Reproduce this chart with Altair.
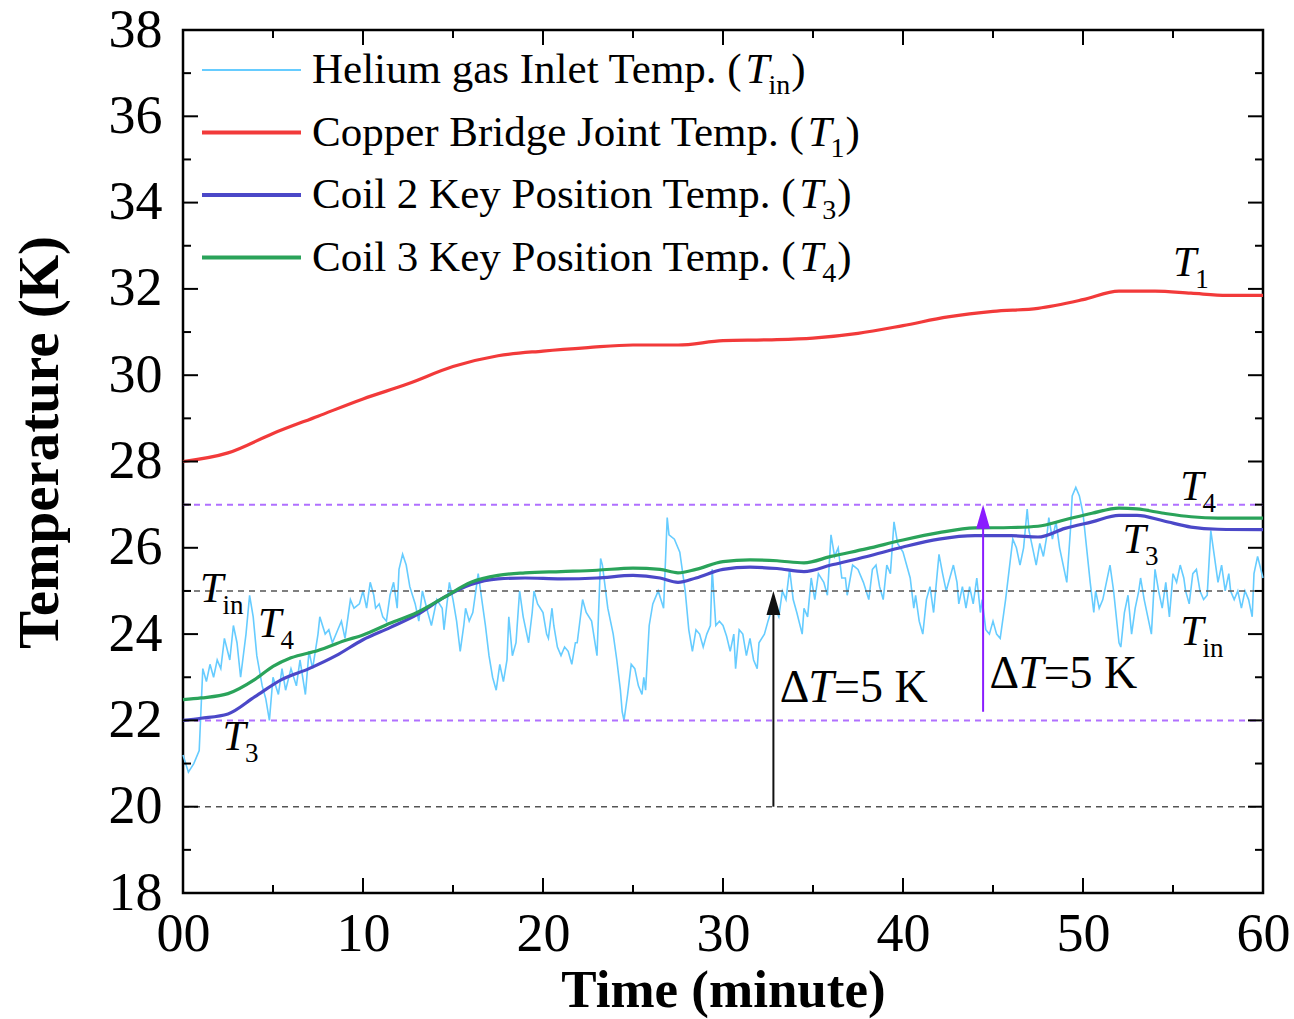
import altair as alt
import pandas as pd

FONT = "Liberation Serif"
W, H = 1080, 863

# ---------------- data ----------------
tin_readings = [
    (0.0, 21.2), (0.3, 20.8), (0.6, 21.0), (0.9, 21.3), (1.1, 23.2), (1.3, 22.9), (1.5, 23.3), (1.7, 23.0),
    (1.9, 23.4), (2.1, 23.2), (2.3, 23.9), (2.6, 23.4), (2.8, 24.2), (3.0, 23.8), (3.2, 23.0), (3.5, 24.0),
    (3.7, 24.9), (3.9, 24.4), (4.1, 23.5), (4.4, 22.8), (4.6, 22.5), (4.8, 22.0), (5.0, 23.0), (5.3, 22.6),
    (5.5, 23.2), (5.7, 22.7), (6.0, 23.2), (6.3, 22.8), (6.5, 23.4), (6.8, 22.6), (7.0, 23.6), (7.2, 23.2),
    (7.5, 24.0), (7.6, 24.4), (7.9, 24.0), (8.1, 24.1), (8.3, 23.8), (8.6, 24.1), (8.8, 24.3), (9.0, 23.9),
    (9.3, 24.8), (9.5, 24.6), (9.8, 24.7), (10.0, 25.0), (10.2, 24.6), (10.4, 25.2), (10.6, 24.9), (10.7, 24.6),
    (10.9, 24.7), (11.1, 24.4), (11.3, 24.3), (11.5, 24.9), (11.7, 25.2), (11.9, 24.6), (12.0, 25.5), (12.2, 25.85),
    (12.4, 25.6), (12.6, 25.1), (12.9, 24.7), (13.1, 24.3), (13.3, 25.0), (13.6, 24.5), (13.8, 24.2), (14.1, 24.8),
    (14.4, 24.6), (14.5, 24.1), (14.8, 25.2), (15.0, 24.8), (15.2, 24.3), (15.4, 23.6), (15.6, 24.2), (15.7, 24.6),
    (15.9, 24.3), (16.1, 24.5), (16.4, 25.4), (16.6, 24.8), (16.8, 24.2), (17.0, 23.5), (17.2, 23.0), (17.4, 22.7),
    (17.6, 23.3), (17.8, 22.9), (18.0, 23.4), (18.1, 24.4), (18.3, 23.5), (18.5, 23.8), (18.7, 25.0), (18.9, 24.4),
    (19.2, 23.8), (19.4, 24.5), (19.5, 25.0), (19.7, 24.7), (20.0, 24.5), (20.2, 24.0), (20.3, 23.9), (20.5, 24.6),
    (20.6, 24.2), (20.8, 23.7), (21.0, 23.5), (21.2, 23.7), (21.4, 23.6), (21.6, 23.3), (21.8, 23.8), (21.9, 23.8),
    (22.2, 24.8), (22.4, 24.5), (22.7, 24.3), (23.0, 23.5), (23.2, 25.75), (23.3, 25.6), (23.6, 24.6), (23.9, 24.0),
    (24.1, 23.4), (24.3, 22.7), (24.4, 22.2), (24.5, 22.0), (24.7, 22.6), (24.9, 23.3), (25.1, 23.2), (25.3, 22.8),
    (25.5, 22.6), (25.6, 23.0), (25.7, 22.7), (25.9, 24.2), (26.1, 24.7), (26.4, 25.0), (26.7, 24.6), (26.9, 26.7),
    (27.0, 26.3), (27.3, 26.2), (27.6, 25.9), (27.9, 25.0), (28.1, 24.1), (28.3, 23.6), (28.5, 24.1), (28.7, 24.0),
    (28.9, 23.7), (29.1, 24.0), (29.3, 24.2), (29.4, 25.5), (29.6, 24.2), (29.8, 24.3), (30.0, 24.2), (30.2, 23.95),
    (30.4, 23.6), (30.6, 24.0), (30.7, 23.2), (30.9, 24.1), (31.1, 24.0), (31.3, 23.5), (31.5, 23.9), (31.7, 23.4),
    (31.9, 23.2), (32.0, 23.8), (32.3, 24.0), (32.5, 24.3), (32.8, 24.7), (33.1, 24.4), (33.3, 25.0), (33.5, 24.8),
    (33.7, 25.5), (33.9, 24.8), (34.1, 24.5), (34.4, 24.0), (34.5, 24.6), (34.7, 24.4), (34.9, 25.3), (35.1, 24.8),
    (35.3, 25.4), (35.6, 25.2), (35.8, 24.9), (36.0, 26.3), (36.2, 25.8), (36.4, 26.0), (36.6, 25.3), (36.8, 25.3),
    (36.9, 24.9), (37.2, 25.6), (37.5, 25.5), (37.8, 25.2), (38.1, 24.8), (38.3, 25.5), (38.5, 25.6), (38.7, 25.1),
    (38.9, 24.8), (39.1, 25.6), (39.3, 25.4), (39.5, 26.6), (39.7, 26.1), (40.0, 25.9), (40.2, 25.6), (40.4, 25.3),
    (40.6, 24.6), (40.7, 24.9), (40.9, 24.3), (41.1, 24.0), (41.3, 24.8), (41.5, 25.1), (41.7, 24.5), (41.9, 25.4),
    (42.0, 25.85), (42.2, 25.4), (42.4, 25.0), (42.6, 25.3), (42.8, 25.6), (43.0, 25.2), (43.1, 24.7), (43.3, 25.1),
    (43.5, 24.6), (43.7, 25.1), (43.9, 24.7), (44.1, 25.3), (44.3, 24.5), (44.4, 24.8), (44.6, 24.1), (44.8, 24.0),
    (45.0, 24.3), (45.2, 24.0), (45.4, 23.9), (45.6, 24.5), (45.7, 24.8), (45.9, 25.5), (46.1, 26.2), (46.3, 26.0),
    (46.5, 25.6), (46.7, 26.0), (46.9, 26.9), (47.0, 26.4), (47.2, 26.0), (47.4, 25.6), (47.6, 26.1), (47.8, 25.8),
    (48.0, 26.3), (48.1, 26.7), (48.3, 26.2), (48.5, 26.6), (48.7, 26.0), (48.9, 25.6), (49.1, 25.2), (49.3, 26.4),
    (49.4, 27.2), (49.6, 27.4), (49.8, 27.2), (50.0, 26.8), (50.2, 26.0), (50.4, 25.2), (50.6, 24.5), (50.7, 25.0),
    (50.9, 24.6), (51.1, 24.8), (51.3, 25.2), (51.5, 25.6), (51.7, 25.0), (51.9, 24.2), (52.0, 23.8), (52.1, 23.7),
    (52.3, 24.5), (52.5, 24.9), (52.7, 24.0), (52.9, 24.6), (53.1, 25.0), (53.2, 25.3), (53.4, 24.8), (53.6, 24.4),
    (53.8, 24.0), (54.0, 25.5), (54.2, 25.0), (54.4, 24.6), (54.6, 25.2), (54.8, 24.4), (55.0, 25.4), (55.2, 25.2),
    (55.4, 25.6), (55.6, 25.3), (55.7, 25.0), (55.9, 24.7), (56.1, 25.4), (56.3, 25.5), (56.5, 25.0), (56.7, 24.8),
    (56.9, 24.9), (57.1, 26.4), (57.3, 25.8), (57.5, 25.2), (57.7, 25.6), (57.9, 25.0), (58.1, 25.4), (58.2, 25.0),
    (58.4, 24.8), (58.6, 25.0), (58.8, 24.6), (59.0, 25.0), (59.2, 24.8), (59.4, 24.4), (59.5, 25.4), (59.7, 25.8),
    (60.0, 25.3),
]
tin_t = [p[0] for p in tin_readings]
tin_v = [p[1] for p in tin_readings]

t1_t = [0, 2.5, 5, 7.5, 10, 12.5, 15, 17.5, 20, 22.5, 25, 27.5, 30, 32.5, 35, 37.5, 40, 42.5, 45, 47.5, 50, 52, 54, 56, 58, 60]
t1_v = [28.0, 28.2, 28.65, 29.05, 29.45, 29.8, 30.2, 30.45, 30.56, 30.64, 30.7, 30.7, 30.8, 30.82, 30.86, 30.97,
        31.15, 31.35, 31.48, 31.55, 31.75, 31.95, 31.95, 31.9, 31.85, 31.85]

t3_t = [0, 1, 2.5, 4, 5.5, 7, 8.5, 10, 11.5, 13, 14.5, 16, 17.5, 19, 21, 23, 25, 26.5, 27.5, 28.5, 30, 31.5, 33,
        34.5, 36, 38, 40, 42, 44, 46, 47.5, 49, 50.5, 52, 53, 54.5, 56, 57.5, 60]
t3_v = [22.0, 22.05, 22.15, 22.55, 22.95, 23.2, 23.5, 23.87, 24.15, 24.45, 24.85, 25.15, 25.28, 25.3, 25.28, 25.3,
        25.36, 25.3, 25.2, 25.3, 25.5, 25.55, 25.52, 25.45, 25.6, 25.8, 26.02, 26.2, 26.28, 26.28, 26.25, 26.45,
        26.6, 26.75, 26.75, 26.62, 26.48, 26.43, 26.42]

t4_t = [0, 1, 2.5, 4, 5, 6, 7.5, 9, 10, 11.5, 13, 14.5, 16, 17.5, 19, 21, 23, 25, 26.5, 27.5, 28.5, 30, 31.5, 33,
        34.5, 36, 38, 40, 42, 44, 46, 47.5, 49, 50.5, 52, 53, 54.5, 56, 57.5, 60]
t4_v = [22.48, 22.52, 22.62, 22.95, 23.25, 23.45, 23.62, 23.85, 23.98, 24.25, 24.5, 24.85, 25.2, 25.36, 25.42,
        25.45, 25.48, 25.53, 25.5, 25.42, 25.5, 25.68, 25.72, 25.7, 25.65, 25.8, 25.98, 26.18, 26.35, 26.46, 26.47,
        26.5, 26.65, 26.8, 26.92, 26.9, 26.8, 26.72, 26.69, 26.69]

series_names = ["Helium gas Inlet Temp.", "Copper Bridge Joint Temp.", "Coil 2 Key Position Temp.", "Coil 3 Key Position Temp."]
series_subs = ["in", "1", "3", "4"]
series_colors = ["#66ccff", "#f23a3a", "#4b48c8", "#2aa35a"]
series_widths = [1.6, 3.2, 3.2, 3.2]

y_ticks_major = [18, 20, 22, 24, 26, 28, 30, 32, 34, 36, 38]
y_ticks_minor = [19, 21, 23, 25, 27, 29, 31, 33, 35, 37]
x_ticks_major = [0, 10, 20, 30, 40, 50, 60]
x_ticks_minor = [5, 15, 25, 35, 45, 55]

purple_levels = [27, 22]
black_levels = [25, 20]

# arrows: (time, start, tip)
black_arrow = (32.8, 20.0, 25.0)
purple_arrow = (44.45, 22.2, 27.0)

# curve labels: (time, baseline value, subscript)
curve_labels = [
    (55.0, 32.3, "1"), (55.4, 27.1, "4"), (52.2, 25.88, "3"), (55.4, 23.75, "in"),
    (0.95, 24.74, "in"), (4.17, 23.93, "4"), (2.2, 21.31, "3"),
]
# delta labels: (time, baseline value)
delta_labels = [(33.15, 22.43), (44.8, 22.75)]

# ---------------- helpers ----------------
TNR = {' ': 250, '(': 333, ')': 333, '.': 250, 'H': 722, 'e': 444, 'l': 278, 'i': 278, 'u': 500, 'm': 778,
       'g': 500, 'a': 444, 's': 389, 'I': 333, 'n': 500, 't': 278, 'T': 611, 'p': 500, 'C': 667, 'o': 500,
       'r': 333, 'B': 667, 'd': 500, 'J': 389, 'K': 722, 'y': 500, 'P': 556, 'c': 444}


def tw(s, size):
    return sum(TNR.get(c, 500) for c in s) * size / 1000.0


xs = alt.Scale(domain=[0, 60], nice=False, zero=False)
ys = alt.Scale(domain=[18, 38], nice=False, zero=False)

X_AXIS = alt.Axis(values=x_ticks_major, title="Time (minute)",
                  labelExpr="datum.value == 0 ? '00' : datum.label", labelFlush=False,
                  labelPadding=14, titleY=113, titleBaseline="alphabetic",
                  titleFontWeight="bold", titleFontSize=53, grid=False, ticks=False, domain=False,
                  labelFont=FONT, labelFontSize=54, labelColor="black", titleFont=FONT, titleColor="black")
Y_AXIS = alt.Axis(values=y_ticks_major, title="Temperature (K)", labelPadding=21,
                  titleX=-143, titleY=412, titleAngle=-90, titleAlign="center",
                  titleBaseline="middle", titleFontWeight="bold", titleFontSize=57, grid=False, ticks=False,
                  domain=False, labelFont=FONT, labelFontSize=54, labelColor="black", titleFont=FONT,
                  titleColor="black")


def X(f):
    return alt.X(f, scale=xs, axis=X_AXIS, title="Time (minute)")


def Y(f):
    return alt.Y(f, scale=ys, axis=Y_AXIS, title="Temperature (K)")


one = pd.DataFrame({"a": [0]})
layers = []

# Tin line first
tin_df = pd.DataFrame({"t": tin_t, "v": tin_v})
layers.append(alt.Chart(tin_df).mark_line(color=series_colors[0], strokeWidth=series_widths[0]).encode(
    x=X("t:Q"), y=Y("v:Q")))

# reference dashed lines
ref_df = pd.DataFrame({"v": purple_levels + black_levels,
                       "kind": ["p"] * len(purple_levels) + ["k"] * len(black_levels)})
layers.append(alt.Chart(ref_df[ref_df.kind == "k"]).mark_rule(color="#555555", strokeWidth=1.6, strokeDash=[6, 5]).encode(
    y=Y("v:Q"), x=alt.value(0), x2=alt.value(W)))
layers.append(alt.Chart(ref_df[ref_df.kind == "p"]).mark_rule(color="#b070ff", strokeWidth=2, strokeDash=[6, 5]).encode(
    y=Y("v:Q"), x=alt.value(0), x2=alt.value(W)))

for tt, vv, col, wd in [(t1_t, t1_v, series_colors[1], series_widths[1]),
                        (t3_t, t3_v, series_colors[2], series_widths[2]),
                        (t4_t, t4_v, series_colors[3], series_widths[3])]:
    df = pd.DataFrame({"t": tt, "v": vv})
    layers.append(alt.Chart(df).mark_line(color=col, strokeWidth=wd, interpolate="monotone").encode(
        x=X("t:Q"), y=Y("v:Q")))

# arrows
head_path = "M0,-1L0.58,1L-0.58,1Z"
head_px = 24
for (ta, y0, y1), col in [(black_arrow, "#111111"), (purple_arrow, "#8a1cff")]:
    adf = pd.DataFrame({"t": [ta], "v": [y0], "v2": [y1 - 0.4], "vh": [y1 - head_px / 2 / 43.15]})
    layers.append(alt.Chart(adf).mark_rule(color=col, strokeWidth=2).encode(
        x=X("t:Q"), y=Y("v:Q"), y2="v2:Q"))
    layers.append(alt.Chart(adf).mark_point(shape=head_path, size=head_px * head_px, filled=True, color=col,
                                            opacity=1, strokeWidth=0).encode(
        x=X("t:Q"), y=Y("vh:Q")))

# delta T labels
DS = 46
for (td, yd) in delta_labels:
    ddf = pd.DataFrame({"t": [td], "v": [yd]})
    layers.append(alt.Chart(ddf).mark_text(text="Δ", font=FONT, fontSize=DS, align="left",
                                           baseline="alphabetic", color="black").encode(x=X("t:Q"), y=Y("v:Q")))
    layers.append(alt.Chart(ddf).mark_text(text="T", font=FONT, fontSize=DS, fontStyle="italic", align="left",
                                           baseline="alphabetic", color="black", dx=0.62 * DS).encode(
        x=X("t:Q"), y=Y("v:Q")))
    layers.append(alt.Chart(ddf).mark_text(text="=5 K", font=FONT, fontSize=DS, align="left",
                                           baseline="alphabetic", color="black",
                                           dx=0.62 * DS + 0.56 * DS).encode(x=X("t:Q"), y=Y("v:Q")))

# curve labels
LS, SS = 42, 27
for (tl, yl, sub) in curve_labels:
    ldf = pd.DataFrame({"t": [tl], "v": [yl]})
    layers.append(alt.Chart(ldf).mark_text(text="T", font=FONT, fontSize=LS, fontStyle="italic", align="left",
                                           baseline="alphabetic", color="black").encode(x=X("t:Q"), y=Y("v:Q")))
    layers.append(alt.Chart(ldf).mark_text(text=sub, font=FONT, fontSize=SS, align="left",
                                           baseline="alphabetic", color="black", dx=0.556 * LS - 1,
                                           dy=12).encode(x=X("t:Q"), y=Y("v:Q")))

# inward ticks
for vals, ln in [(y_ticks_major, 15), (y_ticks_minor, 8)]:
    tdf = pd.DataFrame({"v": vals})
    layers.append(alt.Chart(tdf).mark_rule(color="black", strokeWidth=2).encode(
        y=Y("v:Q"), x=alt.value(0), x2=alt.value(ln)))
    layers.append(alt.Chart(tdf).mark_rule(color="black", strokeWidth=2).encode(
        y=Y("v:Q"), x=alt.value(W - ln), x2=alt.value(W)))
for vals, ln in [(x_ticks_major, 15), (x_ticks_minor, 8)]:
    tdf = pd.DataFrame({"t": vals})
    layers.append(alt.Chart(tdf).mark_rule(color="black", strokeWidth=2).encode(
        x=X("t:Q"), y=alt.value(H - ln), y2=alt.value(H)))
    layers.append(alt.Chart(tdf).mark_rule(color="black", strokeWidth=2).encode(
        x=X("t:Q"), y=alt.value(0), y2=alt.value(ln)))

# legend (drawn in pixel space at the top-left of the plot)
FS, FSUB = 43, 28
for i in range(4):
    base = 53 + 62.5 * i
    layers.append(alt.Chart(one).mark_rule(color=series_colors[i], strokeWidth=series_widths[i] + 0.6).encode(
        x=alt.value(19), x2=alt.value(118), y=alt.value(base - 13)))
    prefix = series_names[i] + " ("
    x0 = 129
    xT = x0 + tw(prefix, FS)
    xS = xT + 0.556 * FS - 1
    xC = xS + tw(series_subs[i], FSUB) + 1
    for txt, xx, yy, fs, style in [(prefix, x0, base, FS, "normal"), ("T", xT, base, FS, "italic"),
                                   (series_subs[i], xS, base + 11, FSUB, "normal"), (")", xC, base, FS, "normal")]:
        layers.append(alt.Chart(one).mark_text(text=txt, font=FONT, fontSize=fs, fontStyle=style, align="left",
                                               baseline="alphabetic", color="black").encode(
            x=alt.value(xx), y=alt.value(yy)))

chart = alt.layer(*layers).properties(
    width=W, height=H,
    autosize=alt.AutoSizeParams(type="none"),
    padding={"left": 183, "top": 30, "right": 31, "bottom": 126},
    background="white",
).configure_view(stroke="black", strokeWidth=2.5)

chart.save("out.html", embed_options={"renderer": "svg", "actions": False})
